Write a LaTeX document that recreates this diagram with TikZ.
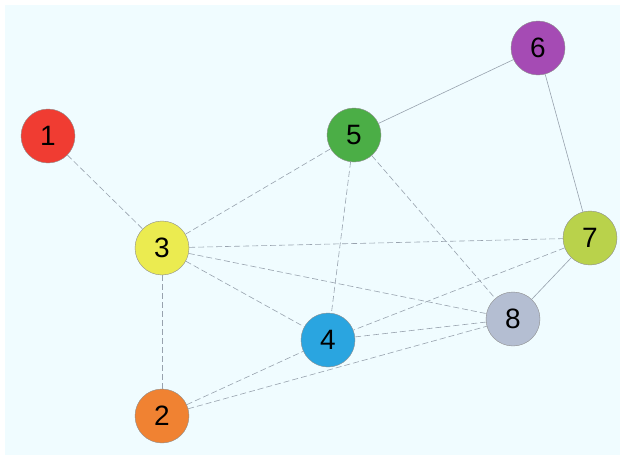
\documentclass[tikz,border=0pt]{standalone}
\usepackage{fontspec}
\setmainfont{Liberation Sans}
\definecolor{bgc}{HTML}{F0FCFF}
\definecolor{c1}{HTML}{F03C32}
\definecolor{c2}{HTML}{F08232}
\definecolor{c3}{HTML}{EBEB50}
\definecolor{c4}{HTML}{2AA5E0}
\definecolor{c5}{HTML}{4BAE46}
\definecolor{c6}{HTML}{A54BB4}
\definecolor{c7}{HTML}{B9D24B}
\definecolor{c8}{HTML}{B4BED2}
\definecolor{edgec}{HTML}{98A2AE}
\begin{document}
\begin{tikzpicture}[x=1pt,y=-1pt,
  vert/.style={circle,minimum size=54pt,inner sep=0pt,draw=black!45,line width=0.4pt,
    font=\fontsize{28}{30}\selectfont,text=black},
  link/.style={draw=edgec,line width=0.6pt,dash pattern=on 6pt off 3pt},
  solidlink/.style={draw=edgec,line width=0.6pt}]
\useasboundingbox (0,0) rectangle (625,458);
\fill[white] (0,0) rectangle (625,458);
\fill[bgc] (5,5) rectangle (620,455);
\node[vert,fill=c1] (n1) at (48,136) {1};
\node[vert,fill=c2] (n2) at (162,416) {2};
\node[vert,fill=c3] (n3) at (162,248) {3};
\node[vert,fill=c4] (n4) at (328,340) {4};
\node[vert,fill=c5] (n5) at (354,135) {5};
\node[vert,fill=c6] (n6) at (538,48) {6};
\node[vert,fill=c7] (n7) at (590,238) {7};
\node[vert,fill=c8] (n8) at (513,319) {8};
\draw[link] (n1) -- (n3);
\draw[link] (n3) -- (n5);
\draw[solidlink] (n5) -- (n6);
\draw[solidlink] (n6) -- (n7);
\draw[link] (n3) -- (n7);
\draw[link] (n3) -- (n8);
\draw[link] (n3) -- (n4);
\draw[link] (n3) -- (n2);
\draw[link] (n5) -- (n4);
\draw[link] (n5) -- (n8);
\draw[link] (n7) -- (n4);
\draw[solidlink] (n7) -- (n8);
\draw[link] (n4) -- (n8);
\draw[link] (n2) -- (n4);
\draw[link] (n2) -- (n8);
\end{tikzpicture}
\end{document}
